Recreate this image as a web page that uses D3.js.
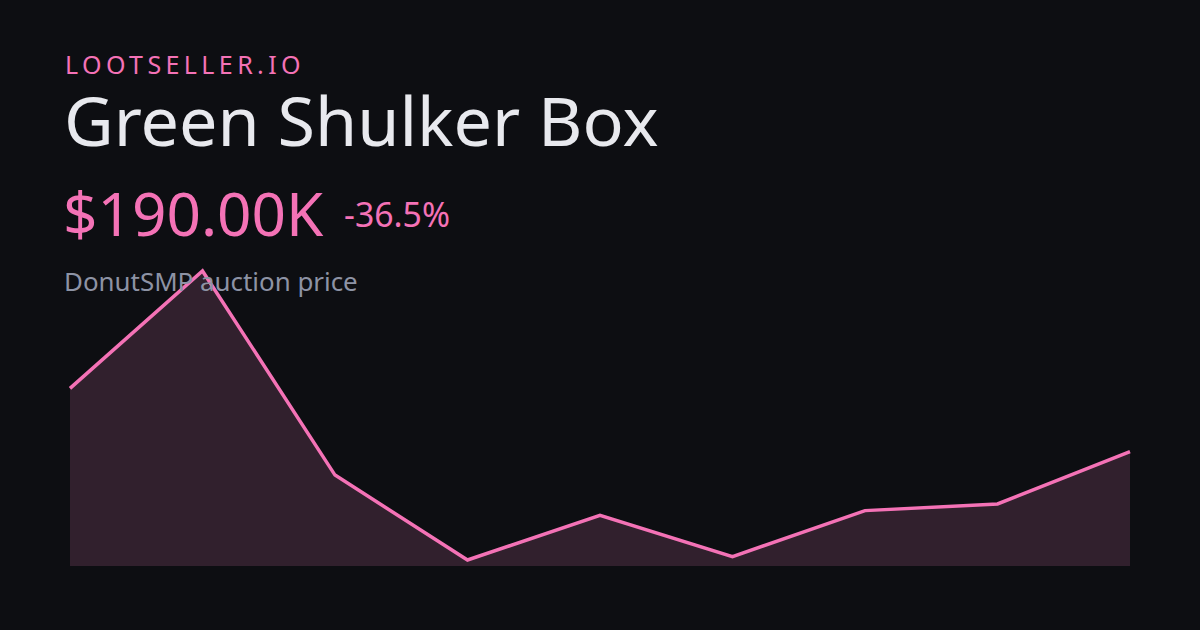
<!DOCTYPE html>
<html><head><meta charset="utf-8">
<script src="https://cdn.jsdelivr.net/npm/d3@7"></script>
<style>html,body{margin:0;padding:0;background:#0d0e12;}svg{display:block;}</style>
</head><body>
<svg id="c" width="1200" height="630"></svg>
<script>
const brand = "LOOTSELLER.IO";
const title = "Green Shulker Box";
const priceLabel = "$190.00K";
const changeLabel = "-36.5%";
const subtitle = "DonutSMP auction price";
const points = [0,1,2,3,4,5,6,7,8];
const prices = [295, 490, 151, 10, 84, 15.5, 92, 103, 190]; // thousands

const svg = d3.select("#c");
svg.append("rect").attr("width",1200).attr("height",630).attr("fill","#0d0e12");
const font = "'Noto Sans', 'Open Sans', sans-serif";

const x = d3.scaleLinear().domain([0, points.length-1]).range([70,1130]);
const y = d3.scaleLinear().domain([0, 490]).range([566, 271]);

const area = d3.area().x((d,i)=>x(points[i])).y0(y(0)).y1(d=>y(d));
const line = d3.line().x((d,i)=>x(points[i])).y(d=>y(d));

svg.append("path").datum(prices).attr("d",area).attr("fill","#31202d");
svg.append("path").datum(prices).attr("d",line).attr("fill","none")
  .attr("stroke","#f472b6").attr("stroke-width",3.5).attr("stroke-linejoin","miter");

svg.append("text").attr("x",65).attr("y",74).text(brand)
  .attr("font-family",font).attr("font-size",25).attr("letter-spacing",4.4).attr("fill","#f472b6");
svg.append("text").attr("x",64).attr("y",146).text(title)
  .attr("font-family",font).attr("font-size",68.3).attr("fill","#e8e9ee");
svg.append("text").attr("x",63).attr("y",236).text(priceLabel)
  .attr("font-family",font).attr("font-size",60.3).attr("fill","#f472b6");
svg.append("text").attr("x",344).attr("y",227).text(changeLabel)
  .attr("font-family",font).attr("font-size",33.8).attr("fill","#f472b6");
svg.append("text").attr("x",64).attr("y",291).text(subtitle)
  .attr("font-family",font).attr("font-size",25.9).attr("fill","#8d93a5");
</script>
</body></html>
